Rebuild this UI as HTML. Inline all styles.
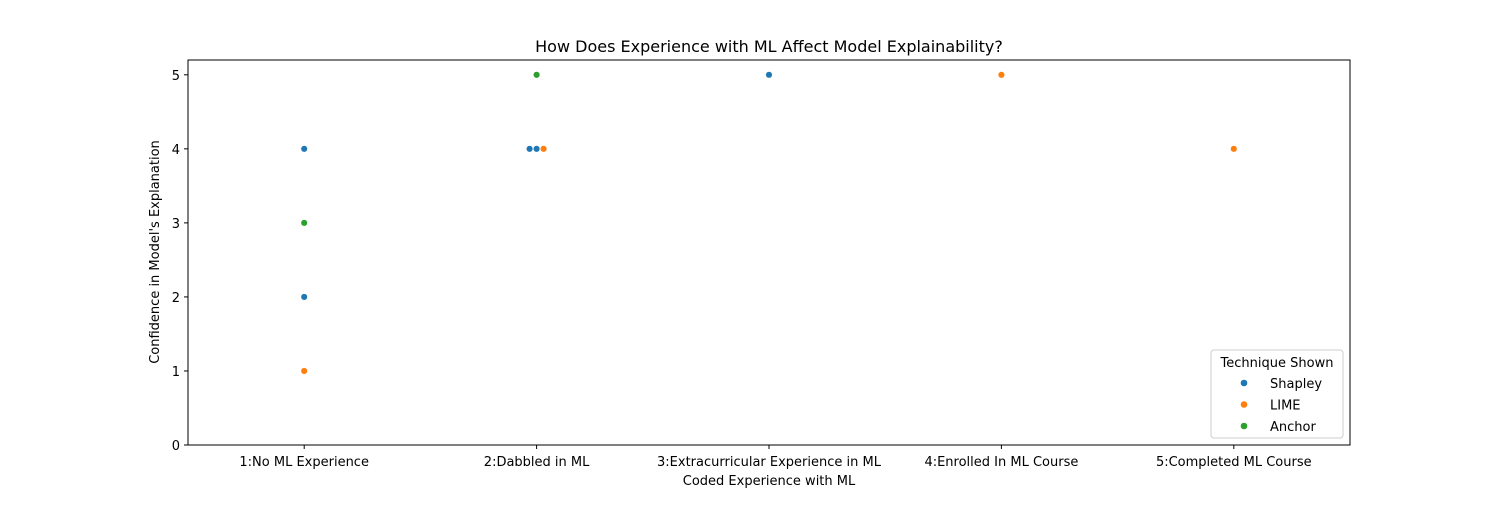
<!DOCTYPE html>
<html><head><meta charset="utf-8"><style>
body{margin:0;background:#fff;font-family:"Liberation Sans","DejaVu Sans",sans-serif;}
svg text{font-family:"DejaVu Sans","Liberation Sans",sans-serif;}
</style></head><body>
<svg id="chart" width="1500" height="500" xmlns="http://www.w3.org/2000/svg">
<rect width="1500" height="500" fill="#fff"/>
<text x="769" y="52" text-anchor="middle" font-size="16" fill="#000">How Does Experience with ML Affect Model Explainability?</text>
<g id="axes"></g>
<g id="marks"></g>
<rect x="188" y="60" width="1162" height="385" fill="none" stroke="#000" stroke-width="1"/>
<text x="769" y="485" text-anchor="middle" font-size="13">Coded Experience with ML</text>
<text transform="translate(159,252) rotate(-90)" text-anchor="middle" font-size="13">Confidence in Model's Explanation</text>
<g>
<rect x="1211" y="350" width="132" height="88" rx="3" fill="#fff" stroke="#ccc"/>
<text x="1277" y="367" text-anchor="middle" font-size="13">Technique Shown</text>
<g id="legend-entries"></g>
</g>
</svg>
<script>
const categories=["1:No ML Experience","2:Dabbled in ML","3:Extracurricular Experience in ML","4:Enrolled In ML Course","5:Completed ML Course"];
const yTicks=[0,1,2,3,4,5];
const techniques=["Shapley","LIME","Anchor"];
const colors=["#1f77b4","#ff7f0e","#2ca02c"];
const pointCategory=[0,0,0,0,1,1,1,1,2,3,4];
const pointValue=[4,3,2,1,4,4,4,5,5,5,4];
const pointTechnique=[0,2,0,1,0,0,1,2,0,1,1];
const NS="http://www.w3.org/2000/svg";
const L=188,R=1350,T=60,B=445;
function xs(i){return L+(i+0.5)*(R-L)/categories.length;}
function ys(v){return B-v*(B-T)/5.2;}
const axes=document.getElementById('axes');
function mk(tag,attrs,parent){const e=document.createElementNS(NS,tag);for(const k in attrs)e.setAttribute(k,attrs[k]);parent.appendChild(e);return e;}
categories.forEach((c,i)=>{
 const x=xs(i);
 const t=mk('line',{x1:x,x2:x,y1:B,y2:B+4,stroke:'#000'},axes);
 
 
 const l=mk('text',{x:x,y:B+21,'text-anchor':'middle','font-size':13},axes);
 l.textContent=c;
 
 
});
yTicks.forEach(v=>{
 const y=ys(v);
 const t=mk('line',{x1:L-4,x2:L,y1:y,y2:y,stroke:'#000'},axes);
 
 
 const l=mk('text',{x:L-8,y:y+5,'text-anchor':'end','font-size':13},axes);
 l.textContent=v;
 
 
});
const marks=document.getElementById('marks');
const groups={};
pointCategory.forEach((c,i)=>{const k=c+'_'+pointValue[i];(groups[k]=groups[k]||[]).push(i);});
Object.values(groups).forEach(g=>{
 g.forEach((i,j)=>{
  const off=(j-(g.length-1)/2)*7;
  const p=mk('circle',{cx:xs(pointCategory[i])+off,cy:ys(pointValue[i]),r:3.3,fill:colors[pointTechnique[i]],stroke:'#fff','stroke-width':0.5},marks);
  
  
 });
});
const le=document.getElementById('legend-entries');
techniques.forEach((t,i)=>{
 const y=383+i*21.5;
 const c=mk('circle',{cx:1244,cy:y,r:3.3,fill:colors[i]},le);
 
 
 const tx=mk('text',{x:1270,y:y+5,'font-size':13},le);
 tx.textContent=t;
 
 
});
</script>
</body></html>
